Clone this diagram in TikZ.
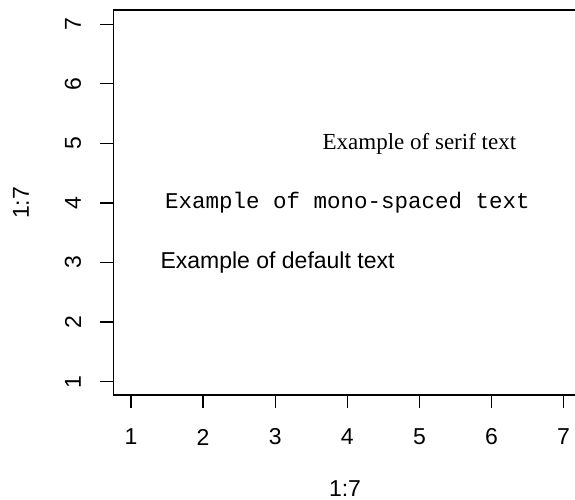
\documentclass[tikz,border=0pt]{standalone}
\usepackage{fontspec}
\setmainfont{Liberation Sans}
\newfontfamily\rserif{Liberation Serif}
\newfontfamily\rmono{Liberation Mono}
\begin{document}
\begin{tikzpicture}[x=1pt,y=1pt,
  axisline/.style={line width=1.3pt, line join=miter},
  tickline/.style={line width=1.3pt},
  lab/.style={font=\fontsize{23}{27}\selectfont, inner sep=0pt, anchor=center}]
\useasboundingbox (0,0) rectangle (575,500);
% frame (left, top, bottom)
\coordinate (tr) at (576,490);
\coordinate (tl) at (113.5,490);
\coordinate (bl) at (113.5,105);
\coordinate (br) at (576,105);
\draw[axisline] (tr) -- (tl) -- (bl) -- (br);
% x axis ticks and labels
\foreach \i in {1,...,7}{
  \pgfmathsetmacro{\px}{131+(\i-1)*72.1}
  \coordinate (xt\i a) at (\px,105);
  \coordinate (xt\i b) at (\px,92);
  \draw[tickline] (xt\i a) -- (xt\i b);
  \node[lab] (xl\i) at (\px,63) {\i};
}
% y axis ticks and labels
\foreach \i in {1,...,7}{
  \pgfmathsetmacro{\py}{118.3+(\i-1)*59.57}
  \coordinate (yt\i a) at (113.5,\py);
  \coordinate (yt\i b) at (100,\py);
  \draw[tickline] (yt\i a) -- (yt\i b);
  \node[lab, rotate=90] (yl\i) at (73,\py) {\i};
}
% axis titles
\node[lab] (xtitle) at (345,11) {1:7};
\node[lab, rotate=90] (ytitle) at (21,297) {1:7};
% texts
\node[lab] (deftext) at (277.5,237.4) {Example of default text};
\node[lab, font=\fontsize{22.5}{27}\selectfont\rmono] (monotext) at (347.3,297) {Example of mono-spaced text};
\node[lab, font=\fontsize{23}{27}\selectfont\rserif] (seriftext) at (419.4,356.6) {Example of serif text};
\end{tikzpicture}
\end{document}
